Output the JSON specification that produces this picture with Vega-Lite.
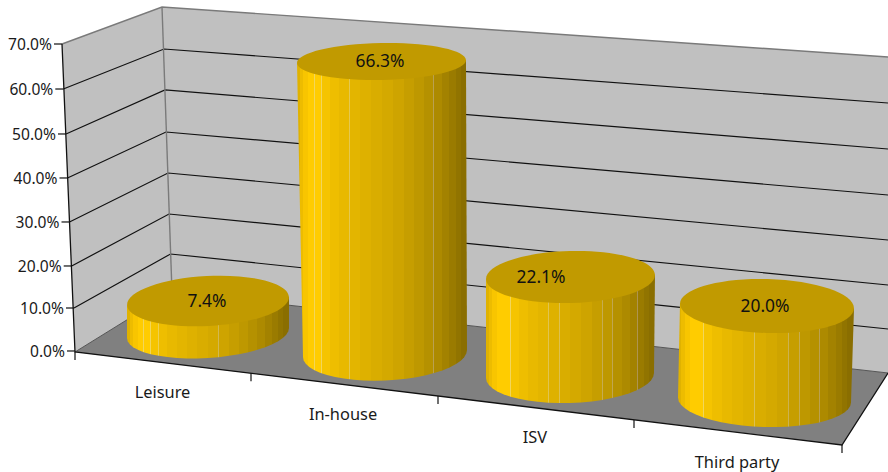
{
  "$schema": "https://vega.github.io/schema/vega-lite/v6.json",
  "width": 888,
  "height": 472,
  "padding": 0,
  "autosize": {"type": "none"},
  "background": "#ffffff",
  "config": {"view": {"stroke": null}},
  "datasets": {
    "shares": [
      {"category": "Leisure", "value": 7.4, "slot": 0},
      {"category": "In-house", "value": 66.3, "slot": 1},
      {"category": "ISV", "value": 22.1, "slot": 2},
      {"category": "Third party", "value": 20.0, "slot": 3}
    ],
    "planes": [
      {"plane": "walls", "corner": 0, "across": 0.62, "rise": 70},
      {"plane": "walls", "corner": 1, "across": 1.62, "rise": 78.41},
      {"plane": "walls", "corner": 2, "across": 8.88, "rise": 67.05},
      {"plane": "walls", "corner": 3, "across": 8.88, "rise": -4.77},
      {"plane": "walls", "corner": 4, "across": 1.72, "rise": 13.64},
      {"plane": "walls", "corner": 5, "across": 0.75, "rise": 0},
      {"plane": "floor", "corner": 0, "across": 0.75, "rise": 0},
      {"plane": "floor", "corner": 1, "across": 1.72, "rise": 13.64},
      {"plane": "floor", "corner": 2, "across": 8.88, "rise": -4.77},
      {"plane": "floor", "corner": 3, "across": 8.42, "rise": -21.14}
    ],
    "gridlines": [
      {"tick": 10, "seam": 0, "across": 0.74, "rise": 10},
      {"tick": 10, "seam": 1, "across": 1.705, "rise": 22.27},
      {"tick": 10, "seam": 2, "across": 8.88, "rise": 5.23},
      {"tick": 20, "seam": 0, "across": 0.717, "rise": 19.55},
      {"tick": 20, "seam": 1, "across": 1.69, "rise": 31.36},
      {"tick": 20, "seam": 2, "across": 8.88, "rise": 15.23},
      {"tick": 30, "seam": 0, "across": 0.695, "rise": 29.55},
      {"tick": 30, "seam": 1, "across": 1.68, "rise": 40.68},
      {"tick": 30, "seam": 2, "across": 8.88, "rise": 25.45},
      {"tick": 40, "seam": 0, "across": 0.675, "rise": 39.55},
      {"tick": 40, "seam": 1, "across": 1.66, "rise": 50},
      {"tick": 40, "seam": 2, "across": 8.88, "rise": 35.68},
      {"tick": 50, "seam": 0, "across": 0.66, "rise": 49.55},
      {"tick": 50, "seam": 1, "across": 1.65, "rise": 59.55},
      {"tick": 50, "seam": 2, "across": 8.88, "rise": 46.14},
      {"tick": 60, "seam": 0, "across": 0.633, "rise": 59.77},
      {"tick": 60, "seam": 1, "across": 1.64, "rise": 68.86},
      {"tick": 60, "seam": 2, "across": 8.88, "rise": 56.59}
    ],
    "valueTicks": [
      {"tick": 0, "across": 0.75, "stub": 0.67, "rise": 0.23},
      {"tick": 10, "across": 0.74, "stub": 0.66, "rise": 10},
      {"tick": 20, "across": 0.717, "stub": 0.637, "rise": 19.55},
      {"tick": 30, "across": 0.695, "stub": 0.615, "rise": 29.55},
      {"tick": 40, "across": 0.675, "stub": 0.595, "rise": 39.55},
      {"tick": 50, "across": 0.66, "stub": 0.58, "rise": 49.55},
      {"tick": 60, "across": 0.633, "stub": 0.553, "rise": 59.77},
      {"tick": 70, "across": 0.62, "stub": 0.54, "rise": 70}
    ],
    "floorTicks": [
      {"across": 0.75, "rise": 0, "below": -1.82},
      {"across": 2.51, "rise": -4.84, "below": -6.66},
      {"across": 4.38, "rise": -10, "below": -11.82},
      {"across": 6.34, "rise": -15.45, "below": -17.27},
      {"across": 8.42, "rise": -21.14, "below": -22.96}
    ],
    "edges": [
      {"edge": "axis", "seq": 0, "across": 0.62, "rise": 70},
      {"edge": "axis", "seq": 1, "across": 0.75, "rise": 0},
      {"edge": "axis", "seq": 2, "across": 8.42, "rise": -21.14},
      {"edge": "axis", "seq": 3, "across": 8.88, "rise": -4.77},
      {"edge": "top", "seq": 0, "across": 0.62, "rise": 70},
      {"edge": "top", "seq": 1, "across": 1.62, "rise": 78.41},
      {"edge": "top", "seq": 2, "across": 8.88, "rise": 67.05},
      {"edge": "corner", "seq": 0, "across": 1.62, "rise": 78.41},
      {"edge": "corner", "seq": 1, "across": 1.72, "rise": 13.64},
      {"edge": "back", "seq": 0, "across": 0.75, "rise": 0},
      {"edge": "back", "seq": 1, "across": 1.72, "rise": 13.64},
      {"edge": "back", "seq": 2, "across": 8.88, "rise": -4.77}
    ]
  },
  "data": {"name": "shares"},
  "transform": [
    {"calculate": "[4.32,-0.34,-5.34,-10.91][datum.slot]", "as": "floorRise"},
    {"calculate": "[0.983,1.001,1.013,1.068][datum.slot]", "as": "depthScale"},
    {"calculate": "datum.floorRise + datum.value * datum.depthScale", "as": "topRise"},
    {"calculate": "[2.08,3.815,5.705,7.67][datum.slot]", "as": "topX"},
    {"calculate": "[81,84.5,84.5,87][datum.slot]", "as": "topRx"},
    {"calculate": "[25,18.5,26,27][datum.slot]", "as": "topRy"},
    {"calculate": "[-3,-1,-1.5,1.6][datum.slot]", "as": "topTilt"},
    {"calculate": "[2.08,3.85,5.70,7.645][datum.slot]", "as": "baseX"},
    {"calculate": "[81,82,84,86.5][datum.slot]", "as": "baseRx"},
    {"calculate": "[25,27,27.5,27][datum.slot]", "as": "baseRy"},
    {"calculate": "[-3.5,-2.4,-1.7,1.6][datum.slot]", "as": "baseTilt"}
  ],
  "encoding": {
    "x": {"field": "across", "type": "quantitative", "axis": null, "scale": {"domain": [0, 8.88], "nice": false, "zero": false}},
    "y": {"field": "rise", "type": "quantitative", "axis": null, "scale": {"domain": [-27.2727, 80], "nice": false, "zero": false}}
  },
  "layer": [
    {
      "data": {"name": "planes"},
      "transform": [{"filter": "datum.plane === 'walls'"}],
      "mark": {"type": "line", "interpolate": "linear-closed", "fill": "#C0C0C0", "strokeWidth": 0},
      "encoding": {"order": {"field": "corner", "type": "quantitative"}}
    },
    {
      "data": {"name": "planes"},
      "transform": [{"filter": "datum.plane === 'floor'"}],
      "mark": {"type": "line", "interpolate": "linear-closed", "fill": "#808080", "strokeWidth": 0},
      "encoding": {"order": {"field": "corner", "type": "quantitative"}}
    },
    {
      "data": {"name": "gridlines"},
      "mark": {"type": "line", "color": "#111111", "strokeWidth": 1.2},
      "encoding": {
        "detail": {"field": "tick"},
        "order": {"field": "seam", "type": "quantitative"}
      }
    },
    {
      "data": {"name": "edges"},
      "transform": [{"filter": "datum.edge === 'top' || datum.edge === 'corner'"}],
      "mark": {"type": "line", "color": "#7A7A7A", "strokeWidth": 1.4},
      "encoding": {
        "detail": {"field": "edge"},
        "order": {"field": "seq", "type": "quantitative"}
      }
    },
    {
      "data": {"name": "edges"},
      "transform": [{"filter": "datum.edge === 'back'"}],
      "mark": {"type": "line", "color": "#555555", "strokeWidth": 1},
      "encoding": {"order": {"field": "seq", "type": "quantitative"}}
    },
    {
      "data": {"name": "edges"},
      "transform": [{"filter": "datum.edge === 'axis'"}],
      "mark": {"type": "line", "color": "#111111", "strokeWidth": 1.3},
      "encoding": {"order": {"field": "seq", "type": "quantitative"}}
    },
    {
      "data": {"name": "valueTicks"},
      "mark": {"type": "rule", "color": "#111111", "strokeWidth": 1.2},
      "encoding": {"x2": {"field": "stub"}}
    },
    {
      "data": {"name": "floorTicks"},
      "mark": {"type": "rule", "color": "#111111", "strokeWidth": 1.2},
      "encoding": {"y2": {"field": "below"}}
    },
    {
      "data": {"name": "valueTicks"},
      "transform": [{"calculate": "format(datum.tick, '.1f') + '%'", "as": "label"}],
      "mark": {"type": "text", "align": "right", "baseline": "middle", "dx": -10, "dy": 1, "font": "Noto Sans", "fontSize": 15.6, "color": "#1a1a1a"},
      "encoding": {"text": {"field": "label"}}
    },
    {
      "transform": [
        {"calculate": "[0,1,2,3,4,5,6,7,8,9,10,11,12,13,14,15,16,17,18,19,20,21,22,23,24,25,26]", "as": "step"},
        {"flatten": ["step"]},
        {"calculate": "datum.step * PI / 24", "as": "theta"},
        {"calculate": "datum.step <= 24 ? datum.baseX + datum.baseRx * cos(datum.theta) / 100 : (datum.step === 25 ? datum.topX - datum.topRx / 100 : datum.topX + datum.topRx / 100)", "as": "across"},
        {"calculate": "datum.step <= 24 ? datum.floorRise - (datum.baseRy * sin(datum.theta) + datum.baseRx * cos(datum.theta) * sin(datum.baseTilt * PI / 180)) / 4.4 : datum.topRise - (datum.step === 25 ? -1 : 1) * datum.topRx * sin(datum.topTilt * PI / 180) / 4.4", "as": "rise"}
      ],
      "mark": {
        "type": "line",
        "interpolate": "linear-closed",
        "strokeWidth": 0,
        "fill": {
          "gradient": "linear", "x1": 0, "y1": 0, "x2": 1, "y2": 0,
          "stops": [
            {"offset": 0, "color": "#E0B200"}, {"offset": 0.017, "color": "#E0B200"},
            {"offset": 0.017, "color": "#EDBC00"}, {"offset": 0.038, "color": "#EDBC00"},
            {"offset": 0.038, "color": "#F8C500"}, {"offset": 0.067, "color": "#F8C500"},
            {"offset": 0.067, "color": "#FFCC00"}, {"offset": 0.101, "color": "#FFCC00"},
            {"offset": 0.101, "color": "#F2D65A"}, {"offset": 0.103, "color": "#F2D65A"},
            {"offset": 0.103, "color": "#FFCC00"}, {"offset": 0.144, "color": "#FFCC00"},
            {"offset": 0.144, "color": "#F2D65A"}, {"offset": 0.146, "color": "#F2D65A"},
            {"offset": 0.146, "color": "#F5C400"}, {"offset": 0.194, "color": "#F5C400"},
            {"offset": 0.194, "color": "#EED050"}, {"offset": 0.196, "color": "#EED050"},
            {"offset": 0.196, "color": "#EEBE00"}, {"offset": 0.248, "color": "#EEBE00"},
            {"offset": 0.248, "color": "#E8CC50"}, {"offset": 0.25, "color": "#E8CC50"},
            {"offset": 0.25, "color": "#E8B900"}, {"offset": 0.307, "color": "#E8B900"},
            {"offset": 0.307, "color": "#E4C850"}, {"offset": 0.309, "color": "#E4C850"},
            {"offset": 0.309, "color": "#E3B500"}, {"offset": 0.369, "color": "#E3B500"},
            {"offset": 0.369, "color": "#E0C450"}, {"offset": 0.371, "color": "#E0C450"},
            {"offset": 0.371, "color": "#DEB100"}, {"offset": 0.433, "color": "#DEB100"},
            {"offset": 0.433, "color": "#DCC050"}, {"offset": 0.435, "color": "#DCC050"},
            {"offset": 0.435, "color": "#D9AD00"}, {"offset": 0.498, "color": "#D9AD00"},
            {"offset": 0.498, "color": "#D8BC50"}, {"offset": 0.5, "color": "#D8BC50"},
            {"offset": 0.5, "color": "#D4A900"}, {"offset": 0.563, "color": "#D4A900"},
            {"offset": 0.563, "color": "#D2B850"}, {"offset": 0.565, "color": "#D2B850"},
            {"offset": 0.565, "color": "#CEA400"}, {"offset": 0.627, "color": "#CEA400"},
            {"offset": 0.627, "color": "#CCB250"}, {"offset": 0.629, "color": "#CCB250"},
            {"offset": 0.629, "color": "#C69E00"}, {"offset": 0.689, "color": "#C69E00"},
            {"offset": 0.689, "color": "#C6AC50"}, {"offset": 0.691, "color": "#C6AC50"},
            {"offset": 0.691, "color": "#BE9800"}, {"offset": 0.748, "color": "#BE9800"},
            {"offset": 0.748, "color": "#C0A650"}, {"offset": 0.75, "color": "#C0A650"},
            {"offset": 0.75, "color": "#B59100"}, {"offset": 0.802, "color": "#B59100"},
            {"offset": 0.802, "color": "#BAA050"}, {"offset": 0.804, "color": "#BAA050"},
            {"offset": 0.804, "color": "#AD8A00"}, {"offset": 0.852, "color": "#AD8A00"},
            {"offset": 0.852, "color": "#B49A50"}, {"offset": 0.854, "color": "#B49A50"},
            {"offset": 0.854, "color": "#A38200"}, {"offset": 0.895, "color": "#A38200"},
            {"offset": 0.895, "color": "#AE9450"}, {"offset": 0.897, "color": "#AE9450"},
            {"offset": 0.897, "color": "#9A7B00"}, {"offset": 0.933, "color": "#9A7B00"},
            {"offset": 0.933, "color": "#917400"}, {"offset": 0.962, "color": "#917400"},
            {"offset": 0.962, "color": "#8A6E00"}, {"offset": 1, "color": "#8A6E00"}
          ]
        }
      },
      "encoding": {
        "detail": {"field": "category"},
        "order": {"field": "step", "type": "quantitative"}
      }
    },
    {
      "transform": [
        {"calculate": "datum.topX", "as": "across"},
        {"calculate": "datum.topRise", "as": "rise"},
        {"calculate": "4 * datum.topRx * datum.topRx", "as": "lidArea"},
        {"calculate": "'M-1,0A1,' + (datum.topRy / datum.topRx) + ' 0 1 1 1,0A1,' + (datum.topRy / datum.topRx) + ' 0 1 1 -1,0Z'", "as": "lidShape"}
      ],
      "mark": {"type": "point", "filled": true, "fill": "#C19A00", "stroke": null, "opacity": 1},
      "encoding": {
        "size": {"field": "lidArea", "type": "quantitative", "scale": null, "legend": null},
        "shape": {"field": "lidShape", "type": "nominal", "scale": null, "legend": null},
        "angle": {"field": "topTilt", "type": "quantitative", "scale": null, "legend": null}
      }
    },
    {
      "transform": [
        {"calculate": "[2.07,3.80,5.41,7.65][datum.slot]", "as": "across"},
        {"calculate": "datum.topRise", "as": "rise"},
        {"calculate": "format(datum.value, '.1f') + '%'", "as": "label"}
      ],
      "mark": {"type": "text", "align": "center", "baseline": "middle", "dy": 1, "font": "Noto Sans", "fontSize": 17.4, "color": "#111111"},
      "encoding": {"text": {"field": "label"}}
    },
    {
      "transform": [
        {"calculate": "[1.625,3.43,5.35,7.37][datum.slot]", "as": "across"},
        {"calculate": "[-9.09,-14.09,-19.32,-24.89][datum.slot]", "as": "rise"}
      ],
      "mark": {"type": "text", "align": "center", "baseline": "middle", "dy": 1, "font": "Noto Sans", "fontSize": 16.4, "color": "#1a1a1a"},
      "encoding": {"text": {"field": "category"}}
    }
  ]
}
